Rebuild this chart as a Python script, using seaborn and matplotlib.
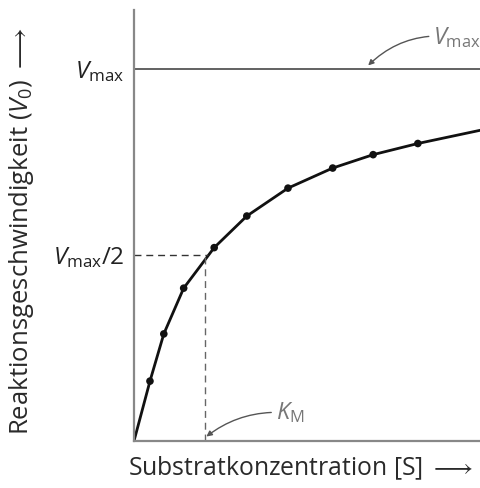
import matplotlib
matplotlib.use("Agg")
import matplotlib.pyplot as plt
import seaborn as sns
import pandas as pd

# Data (x in units of K_M, y in units of Vmax)
point_s = [0.225, 0.42, 0.70, 1.13, 1.59, 2.17, 2.80, 3.37, 4.00]
point_v = [0.161, 0.288, 0.411, 0.520, 0.605, 0.680, 0.734, 0.770, 0.800]
curve_s = [0.0, 0.225, 0.42, 0.70, 1.13, 1.59, 2.17, 2.80, 3.37, 4.00, 4.89]
curve_v = [0.0, 0.161, 0.288, 0.411, 0.520, 0.605, 0.680, 0.734, 0.770, 0.800, 0.836]
vmax = 1.0
km = 1.0
ytick_vals = [0.5, 1.0]
ytick_labels = [r"$V_{\mathrm{max}}/2$", r"$V_{\mathrm{max}}$"]

sns.set_theme(style="white")
plt.rcParams['font.family'] = ['Open Sans', 'DejaVu Sans']
plt.rcParams['mathtext.fontset'] = 'custom'
plt.rcParams['mathtext.rm'] = 'Open Sans'
plt.rcParams['mathtext.it'] = 'Open Sans:italic'
plt.rcParams['mathtext.fallback'] = 'stixsans'

fig = plt.figure(figsize=(4.81, 4.88), dpi=100)
ax = fig.add_axes([134/481, 47/488, 347/481, 431/488])

df_curve = pd.DataFrame({"S": curve_s, "V": curve_v})
df_pts = pd.DataFrame({"S": point_s, "V": point_v})
sns.lineplot(data=df_curve, x="S", y="V", ax=ax, color="#111111", linewidth=2.0, sort=False)
sns.scatterplot(data=df_pts, x="S", y="V", ax=ax, color="#111111", s=30, edgecolor="none", zorder=5)

ax.axhline(vmax, color="#555555", linewidth=1.3)
ax.plot([0, km * 1.04], [0.5 * vmax, 0.5 * vmax], color="#333333", linestyle=(0, (5, 3.5)), linewidth=1.0)
ax.plot([km, km], [0, 0.5 * vmax], color="#666666", linestyle=(0, (5, 3.5)), linewidth=1.0)

ax.set_xlim(0, 4.89)
ax.set_ylim(0, 1.159)
ax.set_xticks([])
ax.set_yticks(ytick_vals)
ax.set_yticklabels(ytick_labels, fontsize=17.5, color="#222222")
ax.tick_params(axis="y", length=0, pad=7)

for side in ["top", "right"]:
    ax.spines[side].set_visible(False)
for side in ["left", "bottom"]:
    ax.spines[side].set_color("#888888")
    ax.spines[side].set_linewidth(1.6)

ax.set_ylabel(r"Reaktionsgeschwindigkeit ($V_0$) $\longrightarrow$", fontsize=18.5,
              color="#2a2a2a", va="center", ha="center")
ax.yaxis.set_label_coords(-0.323, 0.488)
ax.set_xlabel(r"Substratkonzentration [S] $\longrightarrow$", fontsize=17.8,
              color="#2a2a2a", va="center", ha="center")
ax.xaxis.set_label_coords(0.48, -0.063)

ax.annotate(r"$K_{\mathrm{M}}$", xy=(km * 1.02, 0.012), xytext=(2.0, 0.075),
            fontsize=17, color="#777777", va="center", ha="left",
            arrowprops=dict(arrowstyle="-|>", color="#555555", lw=1.0,
                            connectionstyle="arc3,rad=0.2", mutation_scale=8,
                            shrinkA=1, shrinkB=0))
ax.annotate(r"$V_{\mathrm{max}}$", xy=(3.3, vmax * 1.01), xytext=(4.22, 1.085),
            fontsize=17, color="#777777", va="center", ha="left", annotation_clip=False,
            arrowprops=dict(arrowstyle="-|>", color="#555555", lw=1.0,
                            connectionstyle="arc3,rad=0.25", mutation_scale=8,
                            shrinkA=1, shrinkB=0))

fig.savefig("out.png", dpi=100)
